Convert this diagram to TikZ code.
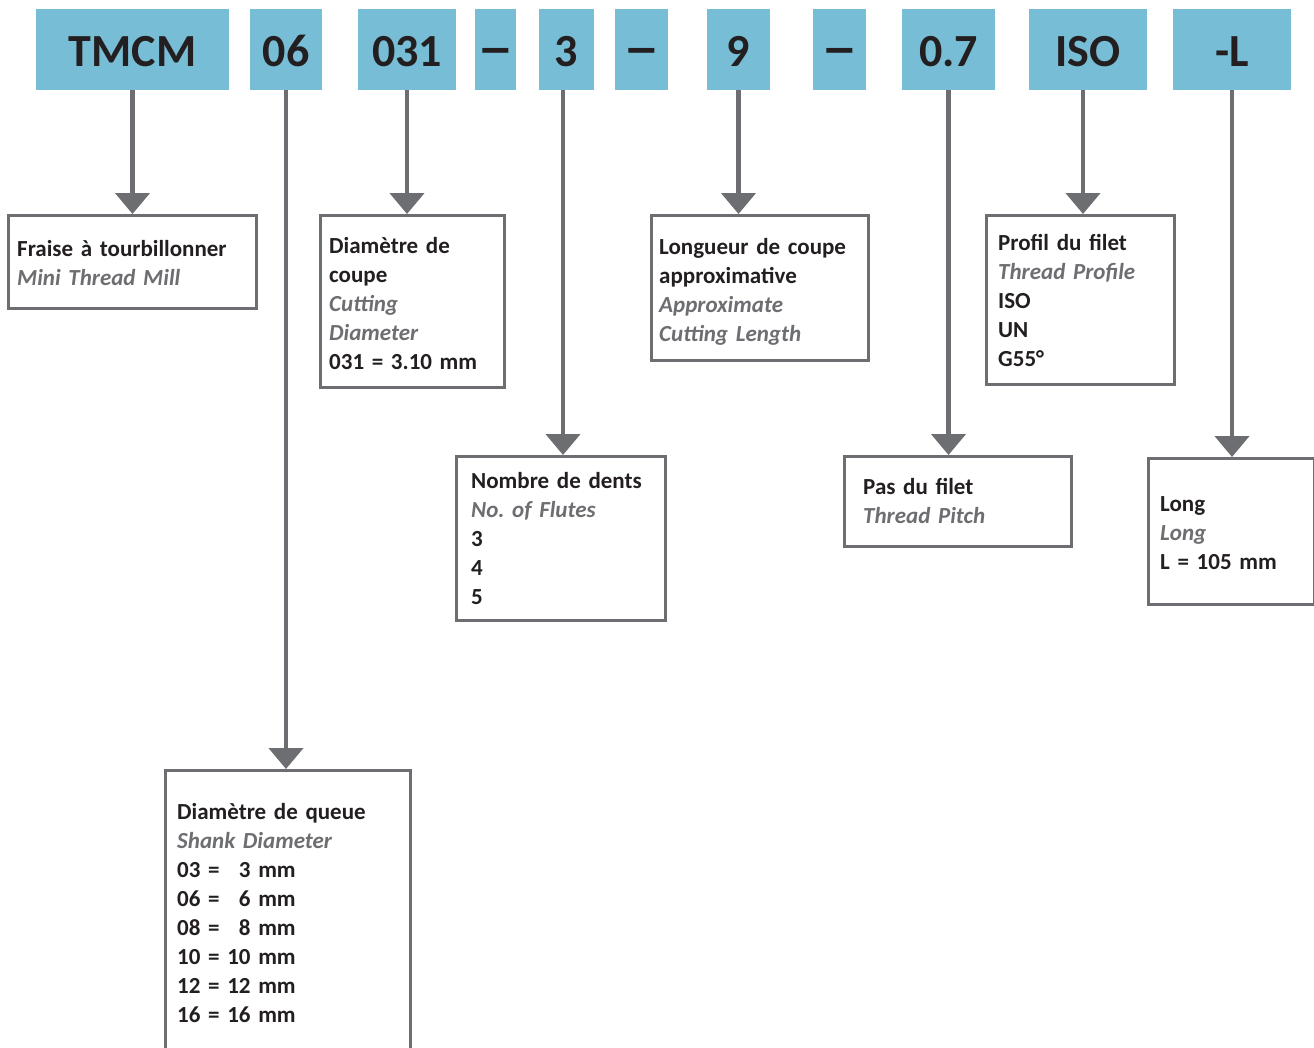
\documentclass[tikz,border=0pt]{standalone}
\usepackage{fontspec}
\setmainfont{Carlito}
\usetikzlibrary{arrows.meta,positioning}
\definecolor{codeblue}{RGB}{120,189,214}
\definecolor{linegray}{RGB}{109,110,113}
\definecolor{inkdark}{RGB}{35,31,32}
\newcommand{\en}[1]{{\color{linegray}\itshape #1}}
\newcommand{\wdash}{\scalebox{1.6}[1.2]{–}}
\frenchspacing

\begin{document}
\begin{tikzpicture}[x=1pt,y=-1pt,
  code/.style={fill=codeblue,inner sep=0pt,minimum height=81pt,text height=34pt,text depth=0pt,
    text=inkdark,font=\fontsize{46}{50}\selectfont\bfseries},
  infobox/.style={draw=linegray,line width=2.5pt,fill=white,anchor=north west,inner sep=0pt},
  infotext/.style={anchor=base west,inner sep=0pt,align=left,text width=240pt,text=inkdark,
    font=\fontsize{23}{29}\selectfont\bfseries},
  pointer/.style={draw=linegray,line width=4.5pt,-{Triangle[width=34pt,length=21pt]}}]
\useasboundingbox (0,0) rectangle (1314,1047);
\node[code,minimum width=193pt] (tmcm) at (132.5,49.5) {TMCM};
\node[code,minimum width=72pt] (shank) at (286,49.5) {06};
\node[code,minimum width=98pt] (diam) at (407,49.5) {031};
\node[code,minimum width=41pt] (dashA) at (495.5,49.5) {\wdash};
\node[code,minimum width=55pt] (flutes) at (566.5,49.5) {3};
\node[code,minimum width=53pt] (dashB) at (641.5,49.5) {\wdash};
\node[code,minimum width=63pt] (cutlen) at (738.5,49.5) {9};
\node[code,minimum width=53pt] (dashC) at (839.5,49.5) {\wdash};
\node[code,minimum width=93pt] (pitch) at (948.5,49.5) {0.7};
\node[code,minimum width=118pt] (profile) at (1088,49.5) {ISO};
\node[code,minimum width=118pt] (length) at (1232,49.5) {-L};

\node[infobox,minimum width=248pt,minimum height=93pt] (fraise) at (7,214) {};
\node[infobox,minimum width=184pt,minimum height=172pt] (coupe) at (319,214) {};
\node[infobox,minimum width=209pt,minimum height=164pt] (dents) at (455,455) {};
\node[infobox,minimum width=217pt,minimum height=145pt] (longueur) at (650,214) {};
\node[infobox,minimum width=188pt,minimum height=169pt] (profil) at (985,214) {};
\node[infobox,minimum width=227pt,minimum height=90pt] (pas) at (843,455) {};
\node[infobox,minimum width=166pt,minimum height=146pt] (long) at (1147,457) {};
\node[infobox,minimum width=245pt,minimum height=300pt] (queue) at (164,769) {};

\node[infotext] (fraisetxt) at ([shift={(10,42)}]fraise.north west)
  {Fraise à tourbillonner\\\en{Mini Thread Mill}};
\node[infotext] (coupetxt) at ([shift={(10,39)}]coupe.north west)
  {Diamètre de\\coupe\\\en{Cutting}\\\en{Diameter}\\031 = 3.10 mm};
\node[infotext] (dentstxt) at ([shift={(16,33)}]dents.north west)
  {Nombre de dents\\\en{No. of Flutes}\\3\\4\\5};
\node[infotext] (longueurtxt) at ([shift={(9,40)}]longueur.north west)
  {Longueur de coupe\\approximative\\\en{Approximate}\\\en{Cutting Length}};
\node[infotext] (profiltxt) at ([shift={(13,36)}]profil.north west)
  {Profil du filet\\\en{Thread Profile}\\ISO\\UN\\G55°};
\node[infotext] (pastxt) at ([shift={(20,39)}]pas.north west)
  {Pas du filet\\\en{Thread Pitch}};
\node[infotext] (longtxt) at ([shift={(13,54)}]long.north west)
  {Long\\\en{Long}\\L = 105 mm};
\node[infotext] (queuetxt) at ([shift={(13,50)}]queue.north west)
  {Diamètre de queue\\\en{Shank Diameter}\\03 = \phantom{1}3 mm\\06 = \phantom{1}6 mm\\08 = \phantom{1}8 mm\\10 = 10 mm\\12 = 12 mm\\16 = 16 mm};

\draw[pointer] (tmcm.south) -- (tmcm.south |- fraise.north);
\draw[pointer] (shank.south) -- (shank.south |- queue.north);
\draw[pointer] (diam.south) -- (diam.south |- coupe.north);
\draw[pointer] ([xshift=-3.5pt]flutes.south) -- ([xshift=-3.5pt]flutes.south |- dents.north);
\draw[pointer] (cutlen.south) -- (cutlen.south |- longueur.north);
\draw[pointer] (pitch.south) -- (pitch.south |- pas.north);
\draw[pointer] ([xshift=-5pt]profile.south) -- ([xshift=-5pt]profile.south |- profil.north);
\draw[pointer] (length.south) -- (length.south |- long.north);
\end{tikzpicture}
\end{document}
